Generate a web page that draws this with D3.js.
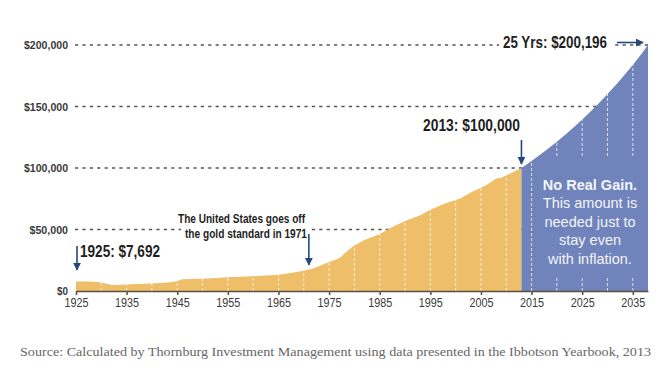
<!DOCTYPE html>
<html><head><meta charset="utf-8">
<script src="https://cdn.jsdelivr.net/npm/d3@7"></script>
<style>
html,body{margin:0;padding:0;background:#fff;}
svg{display:block;}
.nar{font-family:"Liberation Sans",Arial,sans-serif;}
</style>
</head><body>
<svg id="chart" width="663" height="383"></svg>
<script>
// ---- data ----
const histYears  = [1925,1926,1928,1930,1932,1935,1937,1940,1943,1945,1946,1948,1950,1955,1960,1965,1968,1970,1972,1974,1977,1979,1980,1982,1985,1987,1990,1993,1995,1998,2001,2003,2006,2008,2009,2011,2013];
const histValues = [7692,7800,7700,6900,4900,5300,5600,6000,7000,7900,9500,9800,10000,11100,12000,13300,15000,16500,18500,22000,26600,34000,37000,41500,46300,51000,57000,61500,66000,71300,75500,80000,86000,91500,92000,96000,100000];
const projYears  = [2013,2014,2015,2016,2017,2018,2019,2020,2021,2022,2023,2024,2025,2026,2027,2028,2029,2030,2031,2032,2033,2034,2035,2036,2037,2038];
const projValues = [100000,102800,105700,108700,111700,114900,118100,121400,124800,128300,131900,135600,139400,143300,147300,151500,155700,160100,164600,169200,173900,178800,183800,189000,194300,200196];
const yTicks = [0,50000,100000,150000,200000];
const yTickLabels = ["$0","$50,000","$100,000","$150,000","$200,000"];
const xTicks = [1925,1935,1945,1955,1965,1975,1985,1995,2005,2015,2025,2035];
const guideYears = [1930,1935,1940,1945,1950,1955,1960,1965,1970,1975,1980,1985,1990,1995,2000,2005,2010,2015,2020,2025,2030,2035];
const sourceText = "Source: Calculated by Thornburg Investment Management using data presented in the Ibbotson Yearbook, 2013";

// ---- scales ----
const svg = d3.select("#chart");
const x = d3.scaleLinear().domain([1925,2038]).range([76,648]);
const y = d3.scaleLinear().domain([0,200000]).range([291,45]);
const orange = "#EEBE69", blue = "#7083BA", arrowCol = "#22497A", txt = "#3a3a3a";

const hist = histYears.map((d,i)=>({yr:d,v:histValues[i]}));
const proj = projYears.map((d,i)=>({yr:d,v:projValues[i]}));
const area = d3.area().x(d=>x(d.yr)).y0(y(0)).y1(d=>y(d.v));

// arrow marker
const defs = svg.append("defs");
defs.append("marker").attr("id","ah").attr("viewBox","0 0 10 10").attr("refX",9).attr("refY",5)
  .attr("markerWidth",5).attr("markerHeight",5).attr("orient","auto")
  .append("path").attr("d","M0,0L10,5L0,10z").attr("fill",arrowCol);
defs.append("clipPath").attr("id","areaClip").append("path").attr("d",area(hist.concat(proj.slice(1))));

// gridlines
svg.append("g").selectAll("line").data(yTicks.slice(1)).join("line")
  .attr("x1",75).attr("x2",x(2038)).attr("y1",d=>y(d)).attr("y2",d=>y(d))
  .attr("stroke","#555").attr("stroke-width",1.6).attr("stroke-dasharray","3.2,4.2");

// areas
svg.append("path").attr("d",area(hist)).attr("fill",orange);
svg.append("path").attr("d",area(proj)).attr("fill",blue);

// white vertical guides
svg.append("g").attr("clip-path","url(#areaClip)").selectAll("line").data(guideYears).join("line")
  .attr("x1",d=>x(d)).attr("x2",d=>x(d)).attr("y1",y(0)).attr("y2",y(200000))
  .attr("stroke","#fff").attr("stroke-opacity",0.75).attr("stroke-width",1).attr("stroke-dasharray","3,2");

// blue box behind text
svg.append("rect").attr("x",x(2015)+6).attr("y",158).attr("width",x(2038)-x(2015)-9).attr("height",118).attr("fill",blue);

// y labels
svg.append("g").selectAll("text").data(yTicks).join("text").attr("class","nar")
  .attr("x",68).attr("y",d=>y(d)).attr("dy","0.35em").attr("text-anchor","end")
  .attr("font-size",11.5).attr("font-weight","bold").attr("fill",txt)
  .attr("textLength",(d,i)=>yTickLabels[i].length*5.5).attr("lengthAdjust","spacingAndGlyphs")
  .text((d,i)=>yTickLabels[i]);

// x axis
const xa = svg.append("g").attr("transform",`translate(0,${y(0)})`)
  .call(d3.axisBottom(x).tickValues(xTicks).tickFormat(d3.format("d")).tickSize(4).tickSizeOuter(0));
xa.select(".domain").attr("stroke","#5a5040").attr("stroke-width",1.5);
xa.selectAll(".tick line").attr("stroke","#5a5040").attr("stroke-width",1.5);
xa.selectAll(".tick text").attr("class","nar").attr("font-size",12).attr("fill",txt).attr("y",7)
  .attr("textLength",24).attr("lengthAdjust","spacingAndGlyphs");

// annotation helpers
function arrow(x1,y1,x2,y2){
  svg.append("line").attr("x1",x1).attr("y1",y1).attr("x2",x2).attr("y2",y2)
    .attr("stroke",arrowCol).attr("stroke-width",1.6).attr("marker-end","url(#ah)");
}
function label(tx,ty,s,size,width,anchor,bg){
  const t = svg.append("text").attr("class","nar").attr("x",tx).attr("y",ty).attr("text-anchor",anchor||"start")
    .attr("font-size",size).attr("font-weight","bold").attr("fill","#1e1e1e")
    .attr("textLength",width).attr("lengthAdjust","spacingAndGlyphs").text(s);
  if(bg){ const b=t.node().getBBox(); svg.insert("rect",()=>t.node()).attr("x",b.x-4).attr("y",b.y).attr("width",b.width+8).attr("height",b.height).attr("fill","#fff"); }
  return t;
}

// 1925
label(80,257,"1925:  $7,692",16,80,"start",true);
arrow(x(1925)+1,246,x(1925)+1,270);
// 1971
label(241.5,223,"The United States goes off",12,127,"middle",true);
label(246,238,"the gold standard in 1971",12,122,"middle",true);
arrow(x(1971),234,x(1971),265);
// 2013
label(471.5,131,"2013:  $100,000",16,97,"middle",false);
arrow(x(2013),140,x(2013),164);
// 2038
label(503,48,"25 Yrs:  $200,196",16,104,"start",true);
arrow(617,42.5,643,42.5);

// No real gain
const nr = svg.append("g").attr("font-family","'Liberation Sans',Arial,sans-serif").attr("text-anchor","middle").attr("fill","#f4f5fa");
nr.append("text").attr("x",590).attr("y",190).attr("font-size",14.5).attr("font-weight","bold").text("No Real Gain.");
["This amount is","needed just to","stay even","with inflation."].forEach((s,i)=>{
  nr.append("text").attr("x",590).attr("y",208+i*18.7).attr("font-size",14.5).text(s);
});

// source
svg.append("text").attr("x",20).attr("y",356).attr("font-family","'Liberation Serif','Times New Roman',serif")
  .attr("font-size",13).attr("fill","#666").attr("textLength",631).attr("lengthAdjust","spacingAndGlyphs").text(sourceText);
</script>
</body></html>
